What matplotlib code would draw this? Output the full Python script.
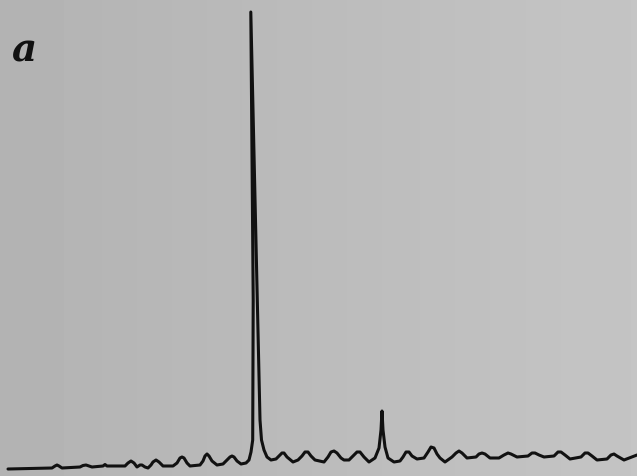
import numpy as np
import matplotlib
matplotlib.use('Agg')
import matplotlib.pyplot as plt

# trace: x position and y position (px from the top edge)
trace_x = [8, 52, 55, 57, 59, 62, 80, 83, 86, 89, 92, 103, 105, 107, 125, 128, 131, 134,
           137, 140, 142, 145, 148, 151, 153, 156, 159, 163, 173, 177, 180, 182, 184, 187,
           190, 200, 203, 205, 207, 209, 212, 217, 223, 227, 230, 232, 234, 237, 241, 246,
           249, 251, 252.7, 253.2, 250.8, 257.3, 260, 261.5, 264, 267, 271, 276, 279, 282,
           284, 287, 293, 298, 302, 305, 308, 311, 315, 324, 328, 331, 334, 337, 341, 344,
           349, 353, 357, 360, 364, 369, 375, 379, 381, 382, 383, 385, 388, 394, 400, 403,
           406, 409, 412, 417, 424, 428, 431, 434, 437, 440, 445, 452, 456, 459, 462, 467,
           476, 479, 482, 485, 490, 499, 504, 508, 511, 517, 528, 532, 535, 539, 544, 554,
           558, 561, 565, 570, 581, 585, 588, 592, 597, 607, 611, 614, 617, 624, 637]
trace_y = [469, 468, 466, 465, 466, 468, 467, 465.5, 465, 466, 467, 466, 464.5, 466, 466, 463, 461, 463,
           467, 465, 465, 467, 468, 465, 462, 460, 462, 466, 466, 463, 458, 457, 458, 463,
           466, 465, 461, 456, 454, 456, 461, 465, 464, 460, 457, 456, 457, 461, 464, 463,
           460, 452, 440, 300, 12, 300, 420, 440, 450, 457, 460, 459, 456, 453,
           453, 457, 462, 460, 456, 452, 452, 456, 460, 462, 457, 452, 451, 453, 458, 460,
           460, 456, 452, 452, 457, 462, 458, 448, 430, 411, 430, 447, 458, 462, 461, 457,
           452, 452, 456, 459, 458, 452, 447, 448, 454, 458, 462, 457, 453, 451, 453, 458,
           457, 454, 453, 454, 458, 458, 455, 453, 454, 457, 456, 453, 453, 455, 457, 456,
           452, 452, 455, 459, 457, 453, 453, 456, 460, 459, 455, 454, 456, 460, 455]
panel_label = "a"

W, H = 637, 476
fig = plt.figure(figsize=(W / 100, H / 100), dpi=100)
ax = fig.add_axes([0, 0, 1, 1])
ax.set_xlim(0, W)
ax.set_ylim(H, 0)
ax.axis('off')

# grey paper, a bit darker on the left
grad = np.linspace(0.70, 0.77, 200)[None, :]
ax.imshow(grad, cmap='gray', vmin=0, vmax=1, extent=[0, W, H, 0], aspect='auto', zorder=0)

ax.plot(trace_x, trace_y, color='#111111', lw=2.2, solid_joinstyle='round',
        solid_capstyle='round', zorder=2)

ax.text(11, 62, panel_label, fontsize=28, family='DejaVu Serif', style='italic',
        weight='bold', color='#111111', ha='left', va='baseline')

fig.savefig('out.png', dpi=100)
